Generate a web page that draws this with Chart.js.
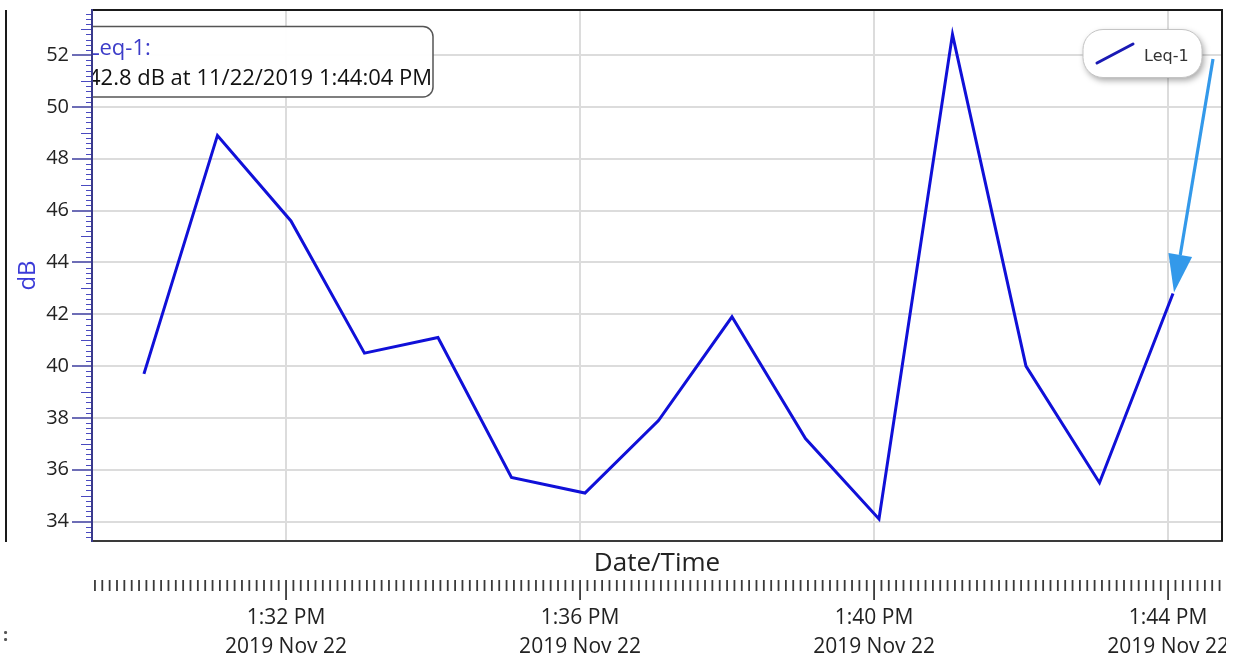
<!DOCTYPE html>
<html>
<head>
<meta charset="utf-8">
<script src="https://cdn.jsdelivr.net/npm/chart.js@4/dist/chart.umd.min.js"></script>
<style>
html,body{margin:0;padding:0;background:#fff;overflow:hidden}
#wrap{width:1233px;height:661px;position:relative;background:#fff}
canvas{display:block}
</style>
</head>
<body>
<div id="wrap"><canvas id="c" width="1233" height="661"></canvas></div>
<script>
// ---------------- data ----------------
const times = ["1:30:04 PM","1:31:04 PM","1:32:04 PM","1:33:04 PM","1:34:04 PM","1:35:04 PM","1:36:04 PM","1:37:04 PM","1:38:04 PM","1:39:04 PM","1:40:04 PM","1:41:04 PM","1:42:04 PM","1:43:04 PM","1:44:04 PM"];
const leqValues = [39.7, 48.9, 45.6, 40.5, 41.1, 35.7, 35.1, 37.9, 41.9, 37.2, 34.1, 52.8, 40.0, 35.5, 42.8];
const xTickTimes = ["1:32 PM","1:36 PM","1:40 PM","1:44 PM"];
const xTickDate = "2019 Nov 22";
const yTicks = [34,36,38,40,42,44,46,48,50,52];
const seriesName = "Leq-1";
const yTitle = "dB";
const xTitle = "Date/Time";
const tooltipTitle = "Leq-1:";
const tooltipText = "42.8 dB at 11/22/2019 1:44:04 PM";
const xMinTime = "1:29:21.6 PM";
const xMaxTime = "1:44:44 PM";
const yMin = 33.25, yMax = 53.74;

// ---------------- helpers ----------------
function parseTime(s){
  const m = s.match(/(\d+):(\d+)(?::([\d.]+))?\s*(AM|PM)/);
  let h = parseInt(m[1],10) % 12;
  if (m[4] === "PM") h += 12;
  return h*3600 + parseInt(m[2],10)*60 + (m[3] ? parseFloat(m[3]) : 0);
}
const xMin = parseTime(xMinTime), xMax = parseTime(xMaxTime);
const xMajor = xTickTimes.map(parseTime);
const FONT = "'Open Sans','Noto Sans',sans-serif";

function rr(ctx,x,y,w,h,r){
  ctx.beginPath();
  ctx.moveTo(x+r,y);
  ctx.lineTo(x+w-r,y); ctx.arcTo(x+w,y,x+w,y+r,r);
  ctx.lineTo(x+w,y+h-r); ctx.arcTo(x+w,y+h,x+w-r,y+h,r);
  ctx.lineTo(x+r,y+h); ctx.arcTo(x,y+h,x,y+h-r,r);
  ctx.lineTo(x,y+r); ctx.arcTo(x,y,x+r,y,r);
  ctx.closePath();
}

const decor = {
  id:'decor',
  beforeDatasetsDraw(chart){
    const {ctx, chartArea:a} = chart;
    ctx.save();
    ctx.beginPath(); ctx.rect(a.left+1, a.top, a.right-a.left, a.bottom-a.top); ctx.clip();
    rr(ctx, 70, 26.5, 363, 70.5, 10);
    ctx.fillStyle = 'rgba(255,255,255,0.95)'; ctx.fill();
    ctx.strokeStyle = '#555'; ctx.lineWidth = 1.5; ctx.stroke();
    ctx.font = "22px " + FONT;
    ctx.textBaseline = 'alphabetic'; ctx.textAlign = 'left';
    ctx.fillStyle = '#3c3cc8';
    ctx.fillText(tooltipTitle, 88, 55);
    ctx.fillStyle = '#111';
    ctx.fillText(tooltipText, 88, 85);
    ctx.restore();
  },
  afterDatasetsDraw(chart){
    const {ctx, chartArea:a, scales} = chart;
    const ys = scales.y, xs = scales.x;
    ctx.save();
    // frame top + right
    ctx.strokeStyle = '#1a1a1a'; ctx.lineWidth = 2;
    ctx.beginPath(); ctx.moveTo(a.left, a.top); ctx.lineTo(a.right, a.top); ctx.lineTo(a.right, a.bottom); ctx.stroke();
    // left outer line
    ctx.beginPath(); ctx.moveTo(6, a.top); ctx.lineTo(6, a.bottom+1); ctx.stroke();
    // y minor ticks
    ctx.strokeStyle = '#4a4ac0'; ctx.lineWidth = 1;
    for (let k = Math.ceil(yMin*5); k <= Math.floor(yMax*5); k++){
      const v = k/5;
      if (k % 10 === 0) continue;
      const py = Math.round(ys.getPixelForValue(v)) + 0.5;
      const len = (k % 5 === 0) ? 11 : 6;
      ctx.beginPath(); ctx.moveTo(a.left - len, py); ctx.lineTo(a.left, py); ctx.stroke();
    }
    // x ruler
    ctx.strokeStyle = '#3a3a3a'; ctx.lineWidth = 1.8;
    const t0 = Math.ceil(xMin/6)*6;
    for (let t = t0; t <= xMax; t += 6){
      const px = xs.getPixelForValue(t);
      const major = xMajor.some(m => Math.abs(m - t) < 0.01);
      ctx.beginPath(); ctx.moveTo(px, 580); ctx.lineTo(px, major ? 600 : 591); ctx.stroke();
    }
    // legend box
    ctx.save();
    ctx.shadowColor = 'rgba(0,0,0,0.35)'; ctx.shadowBlur = 6; ctx.shadowOffsetX = 2; ctx.shadowOffsetY = 3;
    rr(ctx, 1083, 29.5, 119, 48, 20);
    ctx.fillStyle = '#fff'; ctx.fill();
    ctx.restore();
    rr(ctx, 1083, 29.5, 119, 48, 20);
    ctx.strokeStyle = '#c4c4c4'; ctx.lineWidth = 1; ctx.stroke();
    ctx.strokeStyle = '#1a1ab4'; ctx.lineWidth = 3; ctx.lineCap = 'round';
    ctx.beginPath(); ctx.moveTo(1097, 63); ctx.lineTo(1133, 44); ctx.stroke();
    ctx.lineCap = 'butt';
    ctx.fillStyle = '#333'; ctx.font = "16px 'DejaVu Sans',sans-serif";
    ctx.textBaseline = 'middle'; ctx.textAlign = 'left';
    ctx.fillText(seriesName, 1144, 57);
    // arrow to last point
    const meta = chart.getDatasetMeta(0);
    const last = meta.data[meta.data.length-1];
    const tx = last.x + 1, ty = last.y - 1;
    const sx = 1213, sy = 59;
    const dx = tx - sx, dy = ty - sy, L = Math.hypot(dx,dy);
    const ux = dx/L, uy = dy/L;
    const bx = tx - ux*38, by = ty - uy*38;
    ctx.strokeStyle = '#3399ea'; ctx.fillStyle = '#3399ea'; ctx.lineWidth = 3.2;
    ctx.beginPath(); ctx.moveTo(sx, sy); ctx.lineTo(bx, by); ctx.stroke();
    ctx.beginPath();
    ctx.moveTo(tx, ty);
    ctx.lineTo(bx - uy*12, by + ux*12);
    ctx.lineTo(bx + uy*12, by - ux*12);
    ctx.closePath(); ctx.fill();
    // stray glyph bottom-left
    ctx.fillStyle = '#555'; ctx.font = "bold 18px " + FONT; ctx.textAlign='left'; ctx.textBaseline='middle';
    ctx.fillText(':', 3, 636);
    ctx.restore();
  },
  afterDraw(chart){
    const ctx = chart.ctx;
    ctx.save();
    ctx.fillStyle = '#fff';
    ctx.fillRect(1226, 630, 7, 31);
    ctx.restore();
  }
};

const ctx = document.getElementById('c').getContext('2d');
new Chart(ctx, {
  type: 'line',
  data: {
    datasets: [{
      label: seriesName,
      data: times.map((t,i) => ({x: parseTime(t), y: leqValues[i]})),
      borderColor: '#1010d8',
      borderWidth: 3,
      pointRadius: 0,
      pointHoverRadius: 0,
      tension: 0,
      fill: false
    }]
  },
  options: {
    responsive: false,
    animation: false,
    devicePixelRatio: 1,
    layout: {padding: {left: 0, top: 10, right: 11, bottom: 0}},
    plugins: {legend: {display: false}, tooltip: {enabled: false}},
    scales: {
      x: {
        type: 'linear', position: 'bottom', min: xMin, max: xMax,
        afterBuildTicks: s => { s.ticks = xMajor.map(v => ({value: v})); },
        afterFit: s => { s.height = 38; s.paddingLeft = 0; s.paddingRight = 0; },
        grid: {color: '#dcdcdc', lineWidth: 2, drawTicks: false},
        border: {display: true, color: '#3a3a3a', width: 2},
        ticks: {display: false},
        title: {display: true, text: xTitle, color: '#222', font: {family: FONT, size: 26}, padding: {top: 0, bottom: 0}}
      },
      x2: {
        type: 'linear', position: 'bottom', min: xMin, max: xMax,
        afterBuildTicks: s => { s.ticks = xMajor.map(v => ({value: v})); },
        afterFit: s => { s.height = 82; s.paddingLeft = 0; s.paddingRight = 0; },
        grid: {display: false, drawTicks: false},
        border: {display: false},
        ticks: {
          padding: 25, color: '#222', maxRotation: 0, autoSkip: false,
          font: {family: FONT, size: 21, lineHeight: 1.35},
          callback: (v, i) => [xTickTimes[i], xTickDate]
        }
      },
      y: {
        type: 'linear', min: yMin, max: yMax,
        afterBuildTicks: s => { s.ticks = yTicks.map(v => ({value: v})); },
        afterFit: s => { s.width = 92; s.paddingTop = 0; s.paddingBottom = 0; },
        grid: {color: '#dcdcdc', lineWidth: 2, drawTicks: true, tickLength: 20, tickColor: '#3d3d9e', tickWidth: 1.5},
        border: {display: true, color: '#3a3a8c', width: 2, z: 1},
        ticks: {padding: 3, color: '#222', font: {family: FONT, size: 20}},
        title: {display: true, text: yTitle, color: '#3a3ad8', font: {family: FONT, size: 24}, padding: {top: 14, bottom: 0}}
      }
    }
  },
  plugins: [decor]
});
</script>
</body>
</html>
